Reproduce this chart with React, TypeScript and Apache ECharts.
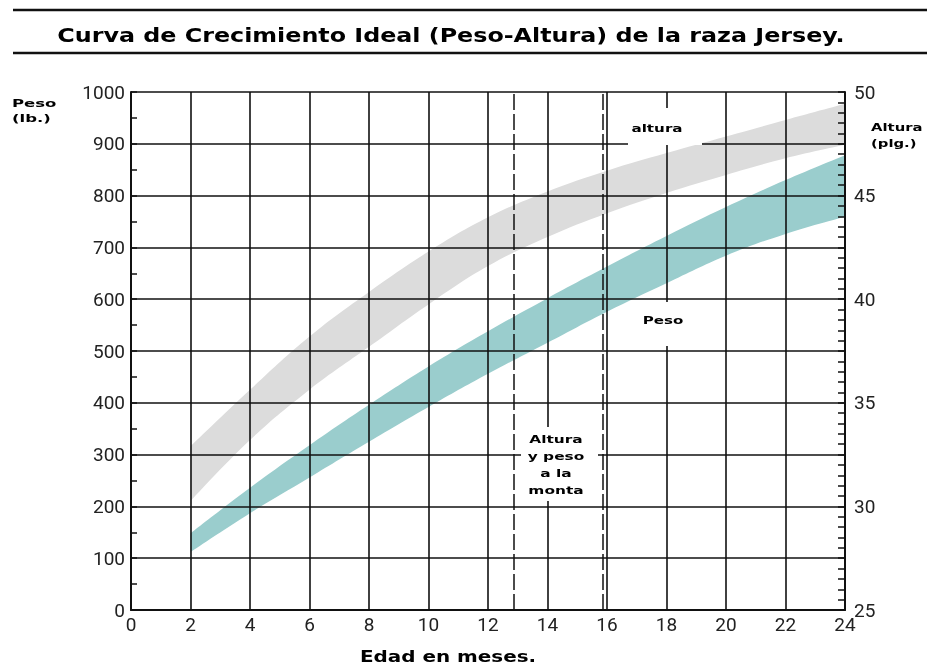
import React, { useEffect, useRef } from "react";
import * as echarts from "echarts";

const months = [2, 4, 6, 8, 10, 12, 14, 16, 18, 20, 22, 24];
const pesoUpper = [148, 236, 318, 396, 470, 538, 602, 663, 722, 778, 830, 878];
const pesoLower = [112, 187, 256, 325, 392, 456, 516, 576, 631, 684, 726, 759];
const alturaUpper = [32.9, 35.63, 38.2, 40.35, 42.3, 43.95, 45.2, 46.2, 47.05, 47.85, 48.65, 49.43];
const alturaLower = [30.25, 33.2, 35.63, 37.7, 39.75, 41.6, 43.0, 44.15, 45.13, 46.0, 46.8, 47.45];
const montaMonths = [12.85, 15.85];

const titleText = "Curva de Crecimiento Ideal (Peso-Altura) de la raza Jersey.";
const xName = "Edad en meses.";
const leftName = "Peso\n(lb.)";
const rightName = "Altura\n(plg.)";
const alturaLabel = "altura";
const pesoLabel = "Peso";
const montaLabel = "Altura\ny peso\na la\nmonta";

const NUM_FONT = 'Roboto, "Liberation Sans", sans-serif';
const HEAVY = '"DejaVu Sans", "Liberation Sans", sans-serif';
const INK = "#111";

export default function App() {
  const ref = useRef<HTMLDivElement>(null);
  useEffect(() => {
    document.body.style.margin = "0";
    const chart = echarts.init(ref.current!, null, { renderer: "svg" });
    const edge = (vals: number[], axis: number, color: string) => ({
      type: "line",
      yAxisIndex: axis,
      smooth: 0.4,
      symbol: "none",
      silent: true,
      z: 1,
      lineStyle: { width: 0, opacity: 0 },
      areaStyle: { color, opacity: 1, origin: "start" },
      data: months.map((m, i) => [m, vals[i]]),
    });
    const heavyText = (x: number, y: number, text: string, size: number, align: string, sx: number, lh?: number) => ({
      type: "text",
      x,
      y,
      scaleX: sx,
      z: 110,
      style: {
        text,
        fontFamily: HEAVY,
        fontWeight: "bold",
        fontSize: size,
        lineHeight: lh ?? size * 1.3,
        fill: "#000",
        align,
        verticalAlign: "middle",
      },
    });
    const whiteRect = (x: number, y: number, w: number, h: number) => ({
      type: "rect",
      z: 100,
      shape: { x, y, width: w, height: h },
      style: { fill: "#fff" },
    });
    const numLabel = (margin: number) => ({
      fontFamily: NUM_FONT,
      fontSize: 19,
      color: "#222",
      margin,
      formatter: (v: number) => String(v),
    });
    chart.setOption({
      animation: false,
      grid: { left: 131, right: 82, top: 92, bottom: 56 },
      xAxis: {
        type: "value",
        min: 0,
        max: 24,
        interval: 2,
        z: 5,
        axisLine: { show: true, onZero: false, lineStyle: { color: INK, width: 2 } },
        axisTick: { show: false },
        splitLine: { show: true, lineStyle: { color: INK, width: 1.6 } },
        axisLabel: numLabel(5),
      },
      yAxis: [
        {
          type: "value",
          min: 0,
          max: 1000,
          interval: 100,
          position: "left",
          z: 5,
          axisLine: { show: true, onZero: false, lineStyle: { color: INK, width: 2 } },
          axisTick: { show: true, inside: true, length: 6, lineStyle: { color: INK, width: 1.5 } },
          minorTick: { show: true, splitNumber: 2, length: 6, lineStyle: { color: INK, width: 1.5 } },
          splitLine: { show: true, lineStyle: { color: INK, width: 1.6 } },
          axisLabel: numLabel(6),
        },
        {
          type: "value",
          min: 25,
          max: 50,
          interval: 5,
          position: "right",
          z: 5,
          axisLine: { show: true, onZero: false, lineStyle: { color: INK, width: 2 } },
          axisTick: { show: true, inside: true, length: 7, lineStyle: { color: INK, width: 1.5 } },
          minorTick: { show: true, splitNumber: 10, length: 7, lineStyle: { color: INK, width: 1.5 } },
          splitLine: { show: false },
          axisLabel: numLabel(9),
        },
      ],
      series: [
        edge(alturaUpper, 1, "#dcdcdc"),
        edge(alturaLower, 1, "#ffffff"),
        edge(pesoUpper, 0, "#9acdcd"),
        edge(pesoLower, 0, "#ffffff"),
        {
          type: "line",
          data: [],
          markLine: {
            silent: true,
            symbol: "none",
            z: 6,
            label: { show: false },
            lineStyle: { color: INK, width: 1.5, type: [16, 4] },
            data: montaMonths.map((m) => ({ xAxis: m })),
          },
        },
      ],
      graphic: [
        { type: "line", z: 100, shape: { x1: 13, y1: 10, x2: 927, y2: 10 }, style: { stroke: INK, lineWidth: 2.5 } },
        { type: "line", z: 100, shape: { x1: 13, y1: 53, x2: 927, y2: 53 }, style: { stroke: INK, lineWidth: 2.5 } },
        heavyText(451, 35, titleText, 20, "center", 1.19),
        heavyText(12, 111, leftName, 11, "left", 1.5, 15),
        heavyText(871, 135, rightName, 11, "left", 1.35, 16),
        heavyText(448, 657, xName, 15, "center", 1.33),
        whiteRect(628, 108, 74, 37),
        heavyText(657, 128, alturaLabel, 11, "center", 1.38),
        whiteRect(640, 302, 50, 44),
        heavyText(663, 320, pesoLabel, 11, "center", 1.37),
        whiteRect(521, 427, 77, 74),
        heavyText(556, 465, montaLabel, 11, "center", 1.4, 17),
      ],
    });
    return () => chart.dispose();
  }, []);
  return <div ref={ref} style={{ position: "fixed", left: 0, top: 0, width: 927, height: 666 }} />;
}
